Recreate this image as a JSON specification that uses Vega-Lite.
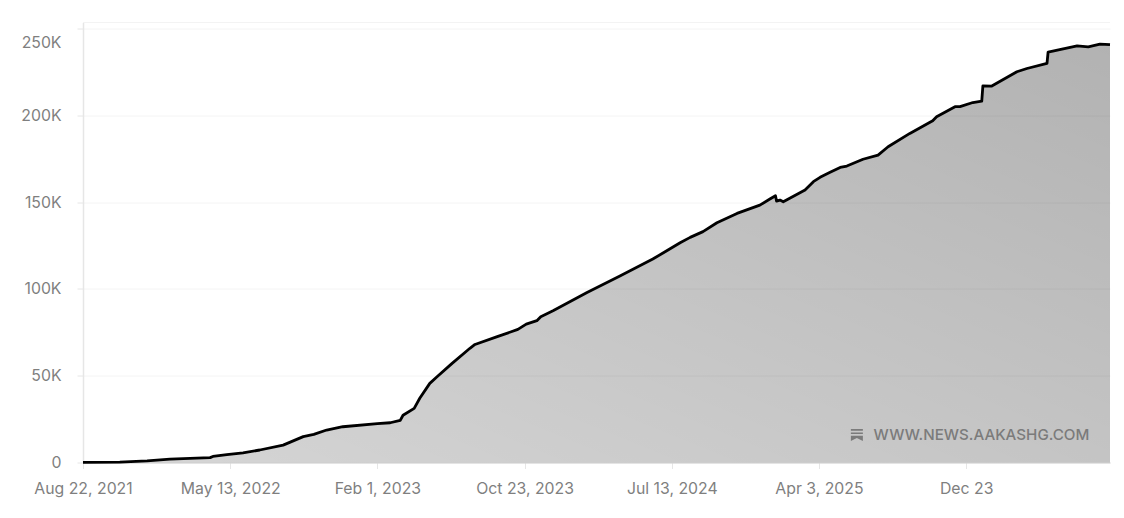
{
  "$schema": "https://vega.github.io/schema/vega-lite/v6.json",
  "width": 1027,
  "height": 440,
  "autosize": {"type": "none"},
  "padding": {"left": 83, "top": 22.5, "right": 14, "bottom": 55.5},
  "background": "white",
  "config": {"view": {"stroke": null}},
  "datasets": {
    "subs": [
      {"date": "2021-08-22", "subscribers": 100},
      {"date": "2021-10-27", "subscribers": 250},
      {"date": "2021-12-15", "subscribers": 900},
      {"date": "2022-01-25", "subscribers": 2000},
      {"date": "2022-04-07", "subscribers": 2800},
      {"date": "2022-04-12", "subscribers": 3500},
      {"date": "2022-05-07", "subscribers": 4500},
      {"date": "2022-06-05", "subscribers": 5600},
      {"date": "2022-07-05", "subscribers": 7200},
      {"date": "2022-08-16", "subscribers": 10000},
      {"date": "2022-09-21", "subscribers": 14900},
      {"date": "2022-10-10", "subscribers": 16200},
      {"date": "2022-11-02", "subscribers": 18700},
      {"date": "2022-12-01", "subscribers": 20600},
      {"date": "2023-02-01", "subscribers": 22400},
      {"date": "2023-02-24", "subscribers": 22900},
      {"date": "2023-03-14", "subscribers": 24300},
      {"date": "2023-03-19", "subscribers": 27200},
      {"date": "2023-04-08", "subscribers": 31200},
      {"date": "2023-04-18", "subscribers": 37000},
      {"date": "2023-05-06", "subscribers": 45600},
      {"date": "2023-05-19", "subscribers": 49400},
      {"date": "2023-06-15", "subscribers": 57100},
      {"date": "2023-07-17", "subscribers": 65800},
      {"date": "2023-07-26", "subscribers": 68000},
      {"date": "2023-09-04", "subscribers": 72500},
      {"date": "2023-10-11", "subscribers": 76700},
      {"date": "2023-10-26", "subscribers": 79700},
      {"date": "2023-11-14", "subscribers": 81700},
      {"date": "2023-11-21", "subscribers": 84000},
      {"date": "2023-12-13", "subscribers": 87400},
      {"date": "2024-02-12", "subscribers": 97900},
      {"date": "2024-04-11", "subscribers": 107400},
      {"date": "2024-06-09", "subscribers": 117200},
      {"date": "2024-07-04", "subscribers": 122000},
      {"date": "2024-07-28", "subscribers": 126600},
      {"date": "2024-08-15", "subscribers": 129700},
      {"date": "2024-09-07", "subscribers": 133000},
      {"date": "2024-10-02", "subscribers": 138100},
      {"date": "2024-11-07", "subscribers": 143500},
      {"date": "2024-12-18", "subscribers": 148300},
      {"date": "2025-01-05", "subscribers": 151800},
      {"date": "2025-01-15", "subscribers": 153700},
      {"date": "2025-01-17", "subscribers": 150600},
      {"date": "2025-01-23", "subscribers": 151200},
      {"date": "2025-01-29", "subscribers": 150200},
      {"date": "2025-03-09", "subscribers": 157000},
      {"date": "2025-03-24", "subscribers": 161800},
      {"date": "2025-04-05", "subscribers": 164300},
      {"date": "2025-04-23", "subscribers": 167200},
      {"date": "2025-05-11", "subscribers": 170000},
      {"date": "2025-05-23", "subscribers": 170800},
      {"date": "2025-06-21", "subscribers": 174700},
      {"date": "2025-07-18", "subscribers": 177100},
      {"date": "2025-08-05", "subscribers": 181900},
      {"date": "2025-09-13", "subscribers": 189600},
      {"date": "2025-10-24", "subscribers": 196900},
      {"date": "2025-10-31", "subscribers": 199200},
      {"date": "2025-12-03", "subscribers": 205000},
      {"date": "2025-12-12", "subscribers": 205000},
      {"date": "2026-01-04", "subscribers": 207400},
      {"date": "2026-01-20", "subscribers": 208200},
      {"date": "2026-01-22", "subscribers": 217000},
      {"date": "2026-02-07", "subscribers": 216900},
      {"date": "2026-03-24", "subscribers": 225100},
      {"date": "2026-04-11", "subscribers": 227000},
      {"date": "2026-05-17", "subscribers": 230000},
      {"date": "2026-05-19", "subscribers": 236500},
      {"date": "2026-07-10", "subscribers": 240000},
      {"date": "2026-07-30", "subscribers": 239500},
      {"date": "2026-08-20", "subscribers": 241000},
      {"date": "2026-09-07", "subscribers": 240700}
    ]
  },
  "layer": [
    {
      "data": {"values": [{"top": 253500}]},
      "mark": {"type": "rule", "color": "#f3f3f3", "strokeWidth": 1},
      "encoding": {"y": {"field": "top", "type": "quantitative"}}
    },
    {
      "data": {"name": "subs"},
      "mark": {
        "type": "area",
        "interpolate": "linear",
        "fill": {
          "gradient": "linear",
          "x1": 0, "y1": 1, "x2": 1, "y2": 0,
          "stops": [
            {"offset": 0, "color": "rgba(0,0,0,0.16)"},
            {"offset": 1, "color": "rgba(0,0,0,0.30)"}
          ]
        }
      },
      "encoding": {
        "x": {
          "field": "date",
          "type": "temporal",
          "scale": {"type": "utc", "domain": ["2021-08-22", "2026-09-07"], "nice": false},
          "axis": {
            "title": null,
            "values": ["2021-08-22", "2022-05-13", "2023-02-01", "2023-10-23", "2024-07-13", "2025-04-03", "2025-12-23"],
            "labelExpr": "utcyear(datum.value) == 2025 && utcmonth(datum.value) == 11 ? 'Dec 23' : utcFormat(datum.value, '%b %-d, %Y')",
            "grid": false,
            "domainColor": "#cfcfcf",
            "domainWidth": 1,
            "tickColor": "#e6e6e6",
            "tickSize": 6,
            "labelFont": "Inter",
            "labelFontSize": 15.8,
            "labelColor": "#7f7f7f",
            "labelPadding": 13,
            "labelFlush": false,
            "labelOverlap": false,
            "labelAngle": 0
          }
        },
        "y": {
          "field": "subscribers",
          "type": "quantitative",
          "scale": {"domain": [0, 253500], "nice": false},
          "axis": {
            "title": null,
            "values": [0, 50000, 100000, 150000, 200000, 250000],
            "labelExpr": "datum.value == 0 ? '0' : (datum.value / 1000) + 'K'",
            "grid": true,
            "gridColor": "#f4f4f4",
            "domainColor": "#e6e6e6",
            "domainWidth": 1.5,
            "tickColor": "#e6e6e6",
            "tickSize": 6,
            "labelFont": "Inter",
            "labelFontSize": 15.8,
            "labelColor": "#7f7f7f",
            "labelPadding": 16,
            "labelOffset": {"condition": {"test": "datum.value == 250000", "value": 14}, "value": 0}
          }
        }
      }
    },
    {
      "data": {"name": "subs"},
      "mark": {"type": "line", "color": "#000000", "strokeWidth": 2.8, "interpolate": "linear", "strokeJoin": "round"},
      "encoding": {
        "x": {"field": "date", "type": "temporal"},
        "y": {"field": "subscribers", "type": "quantitative"}
      }
    },
    {
      "data": {"values": [{"date": "2025-06-10", "subscribers": 15800}]},
      "mark": {
        "type": "point",
        "shape": "M-1,-1H1V-0.72H-1Z M-1,-0.45H1V-0.17H-1Z M-1,0.1H1V1L0,0.5L-1,1Z",
        "size": 144,
        "filled": true,
        "fill": "#7b7b7b",
        "stroke": null,
        "opacity": 1
      },
      "encoding": {
        "x": {"field": "date", "type": "temporal"},
        "y": {"field": "subscribers", "type": "quantitative"}
      }
    },
    {
      "data": {"values": [{"date": "2025-07-10", "subscribers": 15800, "label": "WWW.NEWS.AAKASHG.COM"}]},
      "mark": {
        "type": "text",
        "align": "left",
        "baseline": "middle",
        "font": "Inter",
        "fontSize": 15.2,
        "fontWeight": 500,
        "color": "#7b7b7b"
      },
      "encoding": {
        "x": {"field": "date", "type": "temporal"},
        "y": {"field": "subscribers", "type": "quantitative"},
        "text": {"field": "label", "type": "nominal"}
      }
    }
  ]
}
